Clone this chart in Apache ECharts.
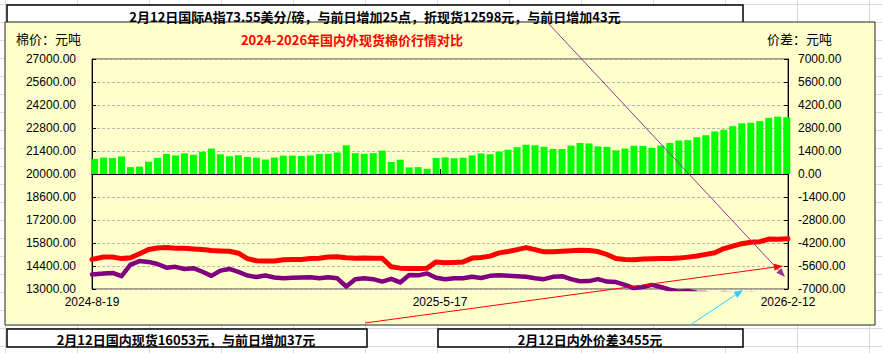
<!DOCTYPE html>
<html>
<head>
<meta charset="utf-8">
<script src="https://cdn.jsdelivr.net/npm/echarts@6/dist/echarts.min.js"></script>
<style>
  html, body { margin: 0; padding: 0; background: #fff; }
  #chart {
    width: 882px; height: 353px;
    background-color: #fff;
    background-image:
      linear-gradient(to right, #d9d9d9 1px, transparent 1px),
      linear-gradient(to bottom, #d9d9d9 1px, transparent 1px);
    background-size: 72px 18px;
    background-position: 5px 4px;
  }
</style>
</head>
<body>
<div id="chart"></div>
<script>
// 每周一（按周取值，柱子画在周三）
const weeks = [
  '2024-08-19','2024-08-26','2024-09-02','2024-09-09','2024-09-16','2024-09-23','2024-09-30','2024-10-07',
  '2024-10-14','2024-10-21','2024-10-28','2024-11-04','2024-11-11','2024-11-18','2024-11-25','2024-12-02',
  '2024-12-09','2024-12-16','2024-12-23','2024-12-30','2025-01-06','2025-01-13','2025-01-20','2025-01-27',
  '2025-02-03','2025-02-10','2025-02-17','2025-02-24','2025-03-03','2025-03-10','2025-03-17','2025-03-24',
  '2025-03-31','2025-04-07','2025-04-14','2025-04-21','2025-04-28','2025-05-05','2025-05-12','2025-05-19',
  '2025-05-26','2025-06-02','2025-06-09','2025-06-16','2025-06-23','2025-06-30','2025-07-07','2025-07-14',
  '2025-07-21','2025-07-28','2025-08-04','2025-08-11','2025-08-18','2025-08-25','2025-09-01','2025-09-08',
  '2025-09-15','2025-09-22','2025-09-29','2025-10-06','2025-10-13','2025-10-20','2025-10-27','2025-11-03',
  '2025-11-10','2025-11-17','2025-11-24','2025-12-01','2025-12-08','2025-12-15','2025-12-22','2025-12-29',
  '2026-01-05','2026-01-12','2026-01-19','2026-01-26','2026-02-02','2026-02-09'
]
const firstDate = '2024-08-19'
const lastDate = '2026-02-12'
const xLabels = ['2024-8-19', '2025-5-17', '2026-2-12']

// 国内现货（元/吨）
const domestic = [
  14800,14950,14950,14850,14900,15150,15400,15500,15520,15480,15480,15440,15400,15350,15320,15300,
  15180,14850,14720,14700,14700,14780,14800,14800,14850,14870,14950,14960,14900,14870,14880,14870,
  14870,14350,14270,14250,14250,14270,14650,14600,14620,14650,14880,14920,15000,15200,15280,15400,
  15520,15400,15260,15270,15300,15330,15360,15340,15280,15100,14860,14800,14780,14830,14840,14850,
  14850,14880,14940,15010,15110,15210,15460,15610,15760,15840,15880,16040,16030,16053
]
// 国际A指折现货（元/吨）
const international = [
  13880,13950,13980,13780,14480,14700,14650,14520,14300,14350,14220,14270,14050,13800,14120,14220,
  14040,13820,13730,13820,13700,13660,13680,13700,13720,13650,13720,13650,13150,13600,13650,13600,
  13450,13620,13400,13850,13830,13950,13680,13590,13660,13660,13750,13670,13800,13840,13800,13770,
  13740,13650,13600,13740,13780,13600,13470,13480,13600,13450,13420,13250,13060,13120,13250,13120,
  12960,12840,12880,12770,12750,12620,12760,12700,12670,12720,12660,12620,12540,12598
]
// 内外价差（元/吨）
const spread = [
  920,1000,970,1070,420,450,750,980,1220,1130,1260,1170,1350,1550,1200,1080,
  1140,1030,990,880,1000,1120,1120,1100,1130,1220,1230,1310,1750,1270,1230,1270,
  1420,730,870,400,420,320,970,1010,960,990,1130,1250,1200,1360,1480,1630,
  1780,1750,1660,1530,1520,1730,1890,1860,1680,1650,1440,1550,1720,1710,1590,1730,
  1890,2040,2060,2240,2360,2590,2700,2910,3090,3120,3220,3420,3490,3455
]

const leftTicks = [13000, 14400, 15800, 17200, 18600, 20000, 21400, 22800, 24200, 25600, 27000]
const rightTicks = [-7000, -5600, -4200, -2800, -1400, 0, 1400, 2800, 4200, 5600, 7000]

const DAY = 86400000
const dayOf = s => Math.round((Date.parse(s) - Date.parse(firstDate)) / DAY)
const lastDay = dayOf(lastDate)
// 柱子放在每周的周三
const barDays = weeks.map(w => dayOf(w) + 2)
// 折线首尾贴到坐标轴两端
const lineDays = barDays.slice()
lineDays[0] = 0
lineDays[lineDays.length - 1] = lastDay

const numFont = 'Liberation Sans'
const cjkFont = '"Noto Sans CJK SC"'

// 箭头（线 + 三角形）
const arrow = (x1, y1, x2, y2, color) => {
  const a = Math.atan2(y2 - y1, x2 - x1)
  const L = 9, W = 3.5
  const bx = x2 - L * Math.cos(a), by = y2 - L * Math.sin(a)
  return [
    { type: 'line', z: 100, shape: { x1, y1, x2: bx, y2: by }, style: { stroke: color, lineWidth: 1 } },
    { type: 'polygon', z: 100, shape: { points: [[x2, y2], [bx - W * Math.sin(a), by + W * Math.cos(a)], [bx + W * Math.sin(a), by - W * Math.cos(a)]] }, style: { fill: color } }
  ]
}

const txt = (text, x, y, opts) => ({
  type: 'text', z: 50,
  style: Object.assign({
    text, x, y, fill: '#000', font: '13px ' + cjkFont,
    textAlign: 'left', textVerticalAlign: 'middle', verticalAlign: 'middle'
  }, opts)
})

const myChart = echarts.init(document.getElementById('chart'), null, { renderer: 'svg' })

const option = {
  animation: false,
  grid: {
    left: 92, right: 94, top: 59, bottom: 64,
    show: true, borderColor: '#404040', borderWidth: 1, backgroundColor: 'transparent'
  },
  graphic: [
    // 顶部文本框
    { type: 'rect', z: -30, shape: { x: 7, y: 5, width: 736, height: 30 }, style: { fill: '#fff', stroke: '#000', lineWidth: 1.5 } },
    txt('2月12日国际A指73.55美分/磅，与前日增加25点，折现货12598元，与前日增加43元', 375, 16,
      { textAlign: 'center', font: 'bold 13px ' + cjkFont }),
    // 图表区
    { type: 'rect', z: -20, shape: { x: 5, y: 22, width: 870, height: 303 }, style: { fill: '#FFFFCC', stroke: '#222', lineWidth: 1 } },
    txt('棉价：元吨', 16, 38),
    txt('价差：元吨', 767, 38),
    txt('2024-2026年国内外现货棉价行情对比', 352, 39,
      { textAlign: 'center', fill: '#FF0000', font: 'bold 13px ' + cjkFont }),
    // 底部文本框
    { type: 'rect', z: -30, shape: { x: 7, y: 329, width: 360, height: 18 }, style: { fill: '#fff', stroke: '#000', lineWidth: 1.5 } },
    txt('2月12日国内现货16053元，与前日增加37元', 186, 339,
      { textAlign: 'center', font: 'bold 13px ' + cjkFont }),
    { type: 'rect', z: -30, shape: { x: 438, y: 329, width: 305, height: 18 }, style: { fill: '#fff', stroke: '#000', lineWidth: 1.5 } },
    txt('2月12日内外价差3455元', 590, 339,
      { textAlign: 'center', font: 'bold 13px ' + cjkFont }),
    ...arrow(548, 23, 785, 277, '#993399'),
    ...arrow(365, 323, 783, 266, '#FF0000'),
    ...arrow(690, 325, 743, 290, '#33CCFF')
  ],
  xAxis: {
    type: 'value', min: 0, max: lastDay, interval: lastDay / 2,
    axisLine: { lineStyle: { color: '#000' } },
    axisTick: { inside: true, length: 5, lineStyle: { color: '#000' } },
    axisLabel: { formatter: (v, i) => xLabels[i], color: '#000', fontFamily: numFont, fontSize: 12, margin: 7 },
    splitLine: { show: false }
  },
  yAxis: [
    {
      // 棉价数据轴（不显示刻度文字）
      type: 'value', min: 13000, max: 27000, position: 'left',
      axisLine: { show: true, lineStyle: { color: '#000' } },
      axisTick: { show: false }, axisLabel: { show: false }, splitLine: { show: false }
    },
    {
      type: 'value', min: rightTicks[0], max: rightTicks[rightTicks.length - 1], interval: 1400, position: 'right',
      axisLine: { show: true, lineStyle: { color: '#000' } },
      axisTick: { inside: true, length: 4, lineStyle: { color: '#000' } },
      axisLabel: { formatter: (v, i) => rightTicks[i].toFixed(2), color: '#000', fontFamily: numFont, fontSize: 12, margin: 10 },
      splitLine: { lineStyle: { color: '#b8b8b8', type: [3, 2] } }
    },
    {
      // 左侧刻度文字
      type: 'value', min: rightTicks[0], max: rightTicks[rightTicks.length - 1], interval: 1400, position: 'left',
      axisLine: { show: false },
      axisTick: { inside: true, length: 4, lineStyle: { color: '#000' } },
      axisLabel: { formatter: (v, i) => leftTicks[i].toFixed(2), color: '#000', fontFamily: numFont, fontSize: 12, margin: 16 },
      splitLine: { show: false }
    }
  ],
  series: [
    {
      name: '内外价差', type: 'bar', yAxisIndex: 1, barWidth: 7,
      data: barDays.map((d, i) => [d, spread[i]]),
      itemStyle: { color: '#00FF00' }
    },
    {
      name: '国际A指折现货', type: 'line', yAxisIndex: 0, showSymbol: false,
      data: lineDays.map((d, i) => [d, international[i]]),
      lineStyle: { color: '#800080', width: 4.5, cap: 'round', join: 'round' }
    },
    {
      name: '国内现货', type: 'line', yAxisIndex: 0, showSymbol: false,
      data: lineDays.map((d, i) => [d, domestic[i]]),
      lineStyle: { color: '#FF0000', width: 5, cap: 'round', join: 'round' }
    }
  ]
}

myChart.setOption(option)

window.addEventListener('resize', () => {
  myChart.resize()
})
</script>
</body>
</html>
